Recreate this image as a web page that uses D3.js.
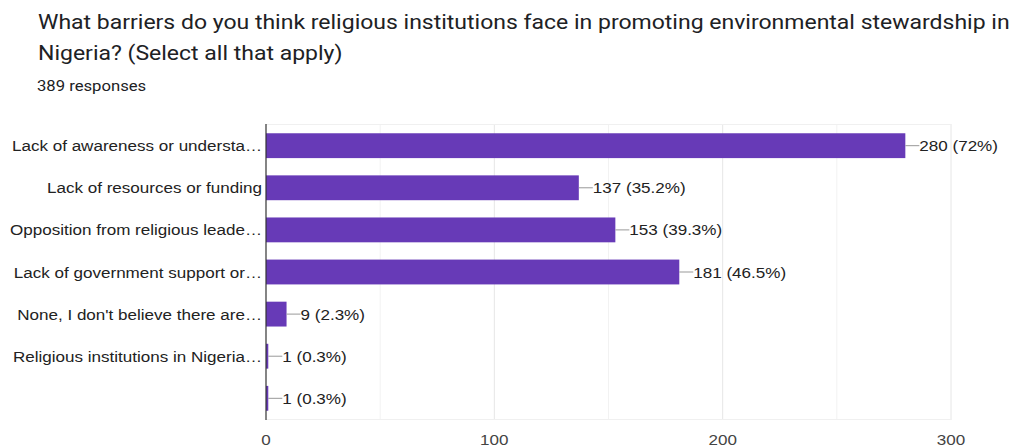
<!DOCTYPE html>
<html>
<head>
<meta charset="utf-8">
<script src="https://cdn.jsdelivr.net/npm/d3@7"></script>
<style>
body { margin: 0; background: #fff; }
text { font-family: "Liberation Sans", Arial, sans-serif; }
.head text { font-family: Roboto, "Noto Sans", sans-serif; }
</style>
</head>
<body>
<script>
(function(){
'use strict';

var categories = [
	'Lack of awareness or understa\u2026',
	'Lack of resources or funding',
	'Opposition from religious leade\u2026',
	'Lack of government support or\u2026',
	'None, I don\'t believe there are\u2026',
	'Religious institutions in Nigeria\u2026',
	''
];
var counts = [280, 137, 153, 181, 9, 1, 1];
var percents = ['72%', '35.2%', '39.3%', '46.5%', '2.3%', '0.3%', '0.3%'];
var ticks = [0, 100, 200, 300];
var gridTicks = [50, 100, 150, 200, 250, 300];

var width = 1015;
var height = 448;
var left = 266, right = 951, top = 124, bottom = 420;
// the picture is a little wider than tall, so text is stretched
var sxHead = 1.15, sx = 1.1;

var svg = d3.select('body').append('svg')
	.attr('width', width)
	.attr('height', height);

var head = svg.append('g').attr('class', 'head')
	.attr('transform', 'scale(' + sxHead + ',1)');
var title = head.append('text')
	.attr('font-size', 20)
	.attr('fill', '#202124');
title.append('tspan').attr('x', 38 / sxHead).attr('y', 29)
	.text('What barriers do you think religious institutions face in promoting environmental stewardship in');
title.append('tspan').attr('x', 38 / sxHead).attr('y', 60)
	.text('Nigeria? (Select all that apply)');

head.append('text')
	.attr('x', 37 / sxHead).attr('y', 91)
	.attr('font-size', 14.5)
	.attr('fill', '#202124')
	.text('389 responses');

var x = d3.scaleLinear().domain([0, 300]).range([left, right]);
var y = d3.scaleBand().domain(d3.range(categories.length)).range([top, bottom]).paddingInner(0.41).paddingOuter(0.22);

// grid
svg.append('g').selectAll('line')
	.data(gridTicks)
	.enter().append('line')
	.attr('x1', function(d){ return x(d); })
	.attr('x2', function(d){ return x(d); })
	.attr('y1', top).attr('y2', bottom)
	.attr('stroke', function(d){ return d % 100 === 0 ? '#e6e6e6' : '#f2f2f2'; })
	.attr('stroke-width', 1);
svg.append('line')
	.attr('x1', left).attr('x2', right)
	.attr('y1', top + 0.5).attr('y2', top + 0.5)
	.attr('stroke', '#f0f0f0');
svg.append('line')
	.attr('x1', left).attr('x2', right)
	.attr('y1', bottom - 0.5).attr('y2', bottom - 0.5)
	.attr('stroke', '#f0f0f0');

// bars
svg.append('g').selectAll('rect')
	.data(counts)
	.enter().append('rect')
	.attr('x', x(0))
	.attr('y', function(d, i){ return y(i); })
	.attr('width', function(d){ return x(d) - x(0); })
	.attr('height', y.bandwidth())
	.attr('fill', '#673ab7');

// leader lines
svg.append('g').selectAll('line')
	.data(counts)
	.enter().append('line')
	.attr('x1', function(d){ return x(d); })
	.attr('x2', function(d){ return x(d) + 14; })
	.attr('y1', function(d, i){ return y(i) + y.bandwidth() / 2; })
	.attr('y2', function(d, i){ return y(i) + y.bandwidth() / 2; })
	.attr('stroke', '#999');

var txt = svg.append('g').attr('transform', 'scale(' + sx + ',1)');

// value labels
txt.append('g').selectAll('text')
	.data(counts)
	.enter().append('text')
	.attr('x', function(d){ return (x(d) + 14) / sx; })
	.attr('y', function(d, i){ return y(i) + y.bandwidth() / 2; })
	.attr('dy', '0.36em')
	.attr('font-size', 15.5)
	.attr('fill', '#222')
	.text(function(d, i){ return d + ' (' + percents[i] + ')'; });

// category labels
txt.append('g').selectAll('text')
	.data(categories)
	.enter().append('text')
	.attr('x', (left - 4) / sx)
	.attr('y', function(d, i){ return y(i) + y.bandwidth() / 2; })
	.attr('dy', '0.36em')
	.attr('text-anchor', 'end')
	.attr('font-size', 15.5)
	.attr('fill', '#222')
	.text(function(d){ return d; });

// x tick labels
txt.append('g').selectAll('text')
	.data(ticks)
	.enter().append('text')
	.attr('x', function(d){ return x(d) / sx; })
	.attr('y', 445)
	.attr('text-anchor', 'middle')
	.attr('font-size', 15.5)
	.attr('fill', '#444')
	.text(function(d){ return d; });

// baseline
svg.append('line')
	.attr('x1', left).attr('x2', left)
	.attr('y1', top).attr('y2', bottom)
	.attr('stroke', '#333')
	.attr('stroke-width', 1.2);

})();
</script>
</body>
</html>
